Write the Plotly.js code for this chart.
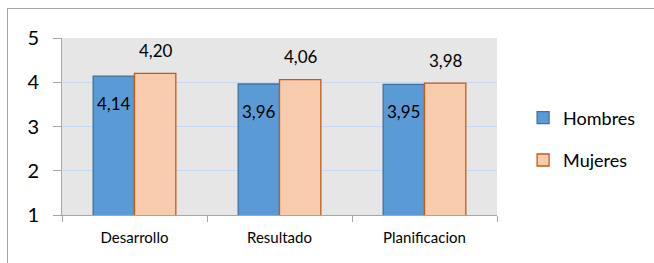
<!DOCTYPE html>
<html><head><meta charset="utf-8">
<script src="https://cdn.plot.ly/plotly-3.0.1.min.js"></script>
<style>
html,body{margin:0;padding:0;background:#fff;}
#wrap{position:relative;width:654px;height:263px;overflow:hidden;}
#chart{position:absolute;left:0;top:0;width:654px;height:263px;}
#frame{position:absolute;left:7px;top:8px;width:700px;height:300px;border:1px solid #a6a6a6;pointer-events:none;}
</style></head>
<body><div id="wrap"><div id="chart"></div><div id="frame"></div></div>
<script>
const categories = ["Desarrollo", "Resultado", "Planificacion"];
const hombres = [4.14, 3.96, 3.95];
const mujeres = [4.20, 4.06, 3.98];
const seriesNames = ["Hombres", "Mujeres"];
const yTicks = [1, 2, 3, 4, 5];

const fmt = v => v.toFixed(2).replace('.', ',');
const FONT = 'Lato, "Open Sans", sans-serif';

const traces = [
  {type:'bar', name:seriesNames[0], x:categories, y:hombres, legendgroup:'a',
   marker:{color:'#5b9bd5', line:{color:'#41719c', width:1.3}}, hoverinfo:'none'},
  {type:'bar', name:seriesNames[1], x:categories, y:mujeres, legendgroup:'b',
   marker:{color:'#f8cbad', line:{color:'#c55a11', width:1.3}}, hoverinfo:'none'}
];

const annotations = [];
categories.forEach((c, i) => {
  annotations.push({x:c, y:hombres[i], xref:'x', yref:'y', text:fmt(hombres[i]), showarrow:false,
    xshift:-21, yshift:-27, font:{family:FONT, size:17, color:'#000'}});
  annotations.push({x:c, y:mujeres[i], xref:'x', yref:'y', text:fmt(mujeres[i]), showarrow:false,
    xshift:21, yshift:23, font:{family:FONT, size:17, color:'#000'}});
});

const layout = {
  width:654, height:263,
  margin:{l:62, r:157, t:38, b:48},
  paper_bgcolor:'rgba(0,0,0,0)',
  plot_bgcolor:'#e6e6e6',
  barmode:'group', bargap:0.43, bargroupgap:0,
  font:{family:FONT, color:'#000'},
  showlegend:true,
  legend:{x:1.06, y:0.43, xanchor:'left', yanchor:'middle', font:{size:18, family:FONT},
          tracegroupgap:16, itemwidth:30, bgcolor:'rgba(0,0,0,0)'},
  xaxis:{type:'category', tickson:'boundaries', ticks:'outside', ticklen:6, tickcolor:'#a6a6a6',
         showline:true, linecolor:'#a6a6a6', linewidth:1, showgrid:false,
         tickfont:{size:15, family:FONT}, ticklabelstandoff:9, fixedrange:true},
  yaxis:{range:[1,5], tickvals:yTicks, ticks:'outside', ticklen:8, tickcolor:'#a6a6a6',
         showline:true, linecolor:'#a6a6a6', linewidth:1, showgrid:true, gridcolor:'#c6d9f1',
         gridwidth:1.3, zeroline:false, tickfont:{size:20, family:FONT}, ticklabelstandoff:10,
         fixedrange:true},
  annotations:annotations
};

Plotly.newPlot('chart', traces, layout, {staticPlot:true, displayModeBar:false});
</script></body></html>
